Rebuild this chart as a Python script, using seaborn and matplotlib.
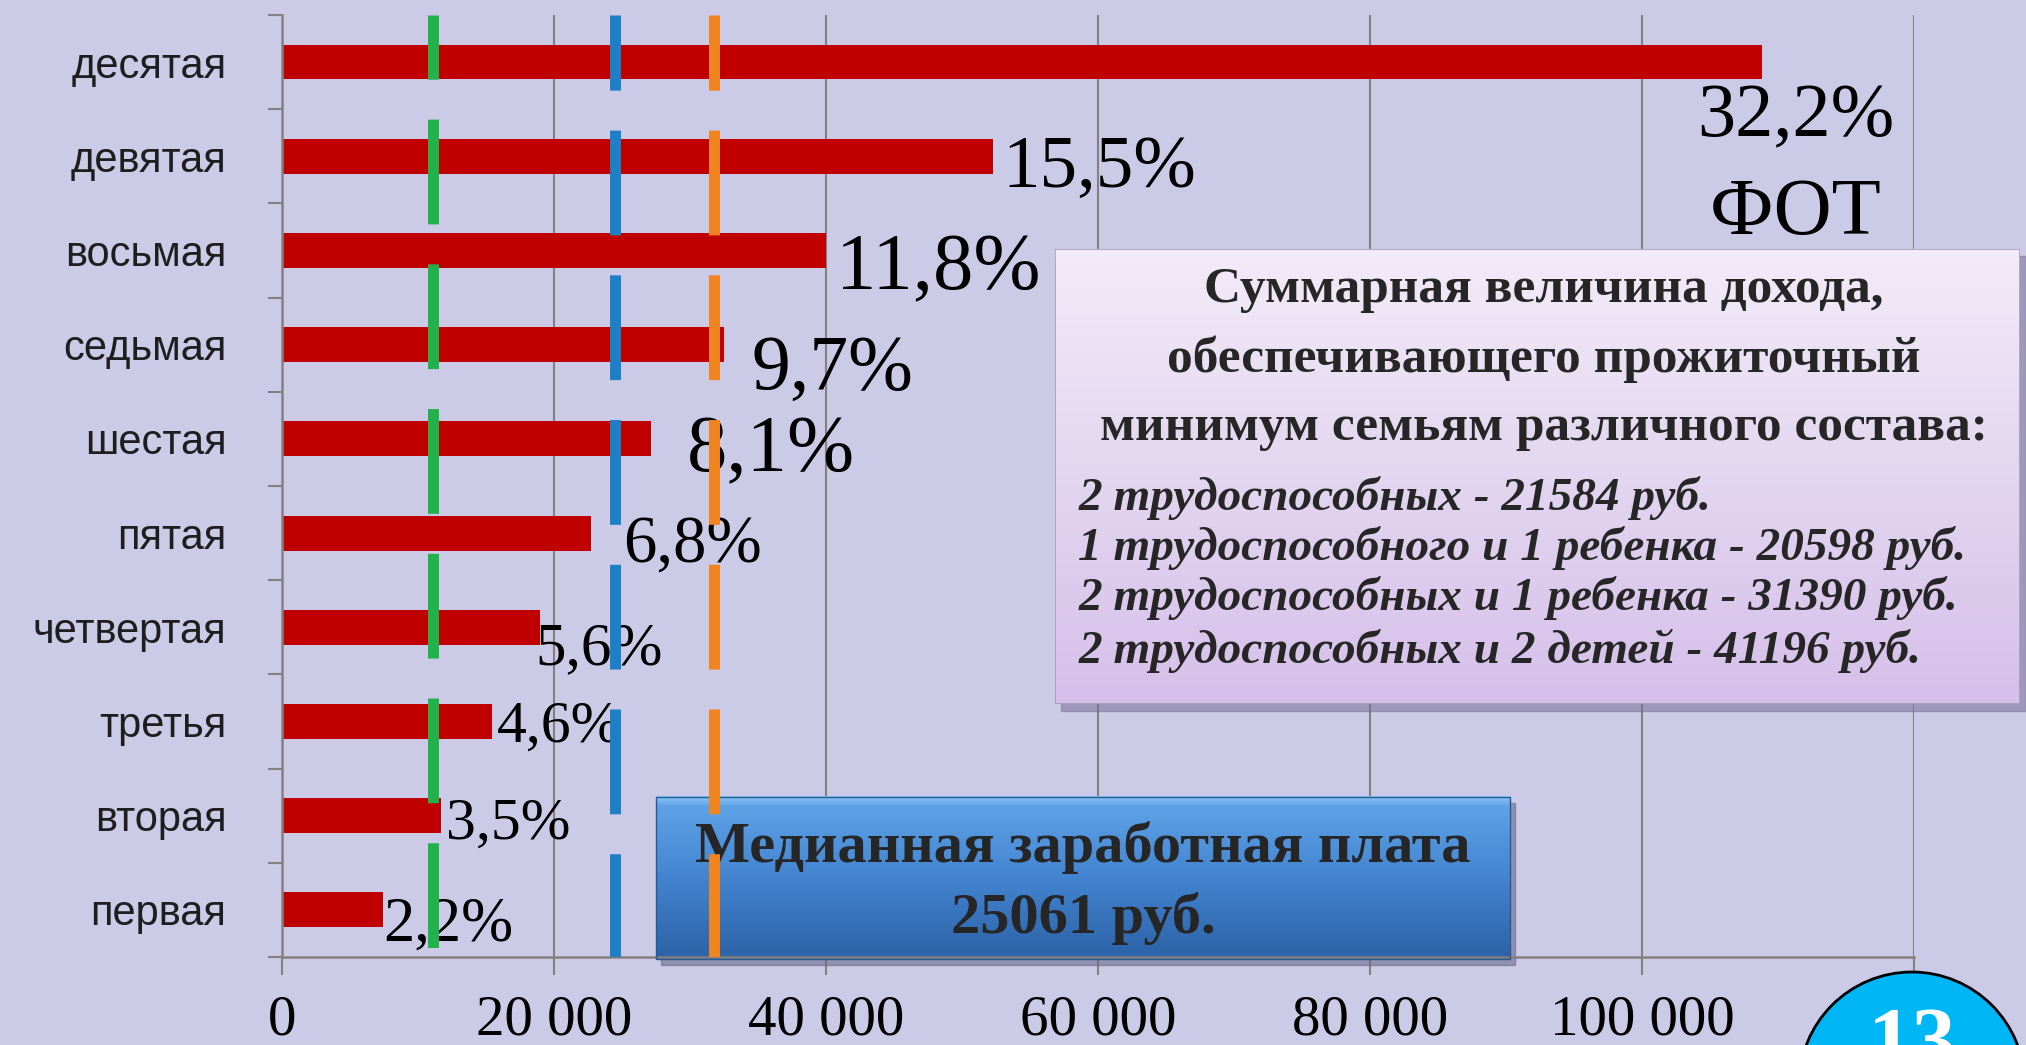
import matplotlib
matplotlib.use("Agg")
import matplotlib.pyplot as plt
import matplotlib.patches as mpatches
import matplotlib.transforms as mtransforms
from matplotlib.colors import LinearSegmentedColormap
import numpy as np
import pandas as pd
import seaborn as sns

# Decile groups (top to bottom) and their average income, rub.
deciles = ["десятая", "девятая", "восьмая", "седьмая", "шестая",
           "пятая", "четвертая", "третья", "вторая", "первая"]
income = [108800, 52300, 40000, 32500, 27150, 22700, 19000, 15450, 11700, 7400]
# share of the wage fund for each decile
share_labels = ["32,2%", "15,5%", "11,8%", "9,7%", "8,1%",
                "6,8%", "5,6%", "4,6%", "3,5%", "2,2%"]
fund_label = "ФОТ"

# vertical reference levels (green, blue, orange)
ref_levels = [11100, 24450, 31750]

x_ticks = [0, 20000, 40000, 60000, 80000, 100000, 120000]
x_tick_labels = ["0", "20 000", "40 000", "60 000", "80 000", "100 000", ""]

box_title = ["Суммарная величина дохода,",
             "обеспечивающего прожиточный",
             "минимум семьям различного состава:"]
box_items = ["2 трудоспособных - 21584 руб.",
             "1 трудоспособного и 1 ребенка - 20598 руб.",
             "2 трудоспособных и 1 ребенка - 31390 руб.",
             "2 трудоспособных и 2 детей - 41196 руб."]
median_text = ["Медианная заработная плата", "25061 руб."]
slide_number = "13"

# styling of the labels / lines (kept apart from the data)
ref_colors = ["#22b24c", "#1f7fc6", "#f0841f"]
ref_dash_offsets = [3.7, 2.7, 2.7]
label_dx = [2500, 700, 700, 2050, 2650, 2350, -350, 350, 350, 80]
label_dy = [0.79, 0.33, 0.41, 0.47, 0.34, 0.30, 0.39, 0.21, 0.24, 0.33]
label_size = [55, 54, 58, 56, 58, 48, 44, 43, 43, 45]

bg = "#cbcbe7"
grid_col = "#858080"
serif = ["Liberation Serif", "DejaVu Serif"]

sns.set_theme(style="white")
plt.rcParams["font.family"] = ["Liberation Sans", "DejaVu Sans"]

fig = plt.figure(figsize=(20.26, 10.45), dpi=100, facecolor=bg)
ax = fig.add_axes([0.1392, 0.0842, 0.8055, 0.9015])
ax.set_facecolor(bg)

df = pd.DataFrame({"decile": deciles, "income": income})
sns.barplot(data=df, x="income", y="decile", order=deciles, orient="h",
            color="#c00000", saturation=1, width=0.37, linewidth=0, ax=ax)

# median salary box (inside the axes so the orange line sits on top)
grad = np.linspace(0, 1, 256).reshape(-1, 1)
blue_cmap = LinearSegmentedColormap.from_list(
    "blue_box", [(0, "#8cc6f6"), (0.06, "#5ea2e6"), (0.5, "#4384d0"), (1, "#2c62a6")])
shadow = mtransforms.offset_copy(ax.transData, fig=fig, x=5, y=-6, units="dots")
ax.add_patch(mpatches.Rectangle((27500, 7.80), 62800, 1.72, transform=shadow,
                                color="#6a6a8a", alpha=0.6, zorder=2.4, clip_on=False))
ax.imshow(grad, cmap=blue_cmap, extent=(27500, 90300, 9.52, 7.80), aspect="auto",
          zorder=2.5, clip_on=False, interpolation="bilinear")
ax.add_patch(mpatches.Rectangle((27500, 7.80), 62800, 1.72, fill=False,
                                edgecolor="#2a5a94", lw=1, zorder=2.55, clip_on=False))
ax.text(58900, 8.49, median_text[0], ha="center", va="baseline", fontsize=42,
        fontweight="bold", family=serif, zorder=2.7)
ax.text(58900, 9.24, median_text[1], ha="center", va="baseline", fontsize=42,
        fontweight="bold", family=serif, zorder=2.7)

# share labels next to the bars
for i, (val, lab) in enumerate(zip(income, share_labels)):
    ax.text(val + label_dx[i], i + label_dy[i], lab, ha="center" if i == 0 else "left",
            va="baseline", fontsize=label_size[i], family=serif, color="black", zorder=3)
ax.text(income[0] + label_dx[0], 1.83, fund_label, ha="center", va="baseline",
        fontsize=58, family=serif, color="black", zorder=3)

# dashed reference levels
for lvl, col, off in zip(ref_levels, ref_colors, ref_dash_offsets):
    ax.plot([lvl, lvl], [-0.5, 9.5], color=col, lw=7.9,
            linestyle=(off, (9.55, 3.64)), zorder=4)

ax.set_xlim(0, 120000)
ax.set_ylim(9.5, -0.5)
ax.set_xlabel("")
ax.set_ylabel("")
ax.set_xticks(x_ticks)
ax.set_xticklabels(x_tick_labels, fontsize=41, family=serif, color="black")
ax.set_yticks(range(len(deciles)))
ax.set_yticklabels(deciles, fontsize=30, color="#1e1e1e")
ax.set_yticks(np.arange(-0.5, 10, 1), minor=True)
ax.tick_params(axis="x", length=13, width=1.5, color=grid_col, pad=14, bottom=True)
ax.tick_params(axis="y", which="major", length=0, pad=40)
ax.tick_params(axis="y", which="minor", length=10, width=1.5, color=grid_col, left=True)
ax.xaxis.grid(True, color=grid_col, lw=1.5)
ax.yaxis.grid(False)
ax.set_axisbelow(True)
for side in ["top", "right"]:
    ax.spines[side].set_visible(False)
for side in ["left", "bottom"]:
    ax.spines[side].set_color(grid_col)
    ax.spines[side].set_linewidth(1.8)

# subsistence minimum box on top
box_pos = [0.5207, 0.3263, 0.4763, 0.4354]
fig.add_artist(mpatches.Rectangle((box_pos[0] + 0.003, box_pos[1] - 0.007), box_pos[2], box_pos[3],
                                  transform=fig.transFigure, color="#7a7096", alpha=0.55, zorder=4.9))
pax = fig.add_axes(box_pos, zorder=5)
pink_cmap = LinearSegmentedColormap.from_list("pink_box", ["#f3ebf8", "#e3d6f0", "#d6bfea"])
pax.imshow(grad, cmap=pink_cmap, extent=(0, 1, 0, 1), aspect="auto", interpolation="bilinear")
pax.set_xlim(0, 1)
pax.set_ylim(0, 1)
pax.axis("off")
pax.add_patch(mpatches.Rectangle((0, 0), 1, 1, transform=pax.transAxes, fill=False,
                                 edgecolor="#a49cb4", lw=1.2))
for line, yb in zip(box_title, [0.8835, 0.7297, 0.5802]):
    pax.text(0.507, yb, line, ha="center", va="baseline", fontsize=37,
             fontweight="bold", family=serif, transform=pax.transAxes)
for line, yb in zip(box_items, [0.4264, 0.3165, 0.2066, 0.0901]):
    pax.text(0.024, yb, line, ha="left", va="baseline", fontsize=34,
             fontweight="bold", fontstyle="italic", family=serif, transform=pax.transAxes)

# slide number badge
fig.add_artist(mpatches.Ellipse((0.9437, -0.0383), 0.1115, 0.2163, transform=fig.transFigure,
                                facecolor="#00b6f4", edgecolor="black", lw=2, zorder=10))
fig.text(0.9437, -0.022, slide_number, ha="center", va="baseline", color="white",
         fontsize=64, fontweight="bold", family=serif, zorder=11)

fig.savefig("out.png", dpi=100, facecolor=bg)
